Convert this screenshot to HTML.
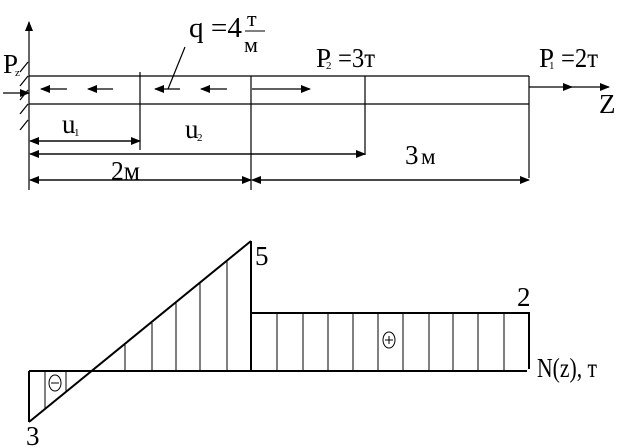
<!DOCTYPE html>
<html><head><meta charset="utf-8"><style>
html,body{margin:0;padding:0;background:#fff;}
svg{display:block;}
text{font-family:"Liberation Serif","DejaVu Serif",serif;fill:#000;}
</style></head><body>
<svg width="640" height="448" viewBox="0 0 640 448" xmlns="http://www.w3.org/2000/svg">
<defs>
<marker id="a" markerWidth="10" markerHeight="8" refX="9" refY="4" orient="auto" markerUnits="userSpaceOnUse"><path d="M0,0 L10,4 L0,8 z" fill="#000"/></marker>
</defs>
<g stroke="#000" stroke-width="1.2" fill="none">
<line x1="29" y1="190" x2="29" y2="22" marker-end="url(#a)"/>
<line x1="20" y1="72" x2="28" y2="62"/>
<line x1="20" y1="86" x2="28" y2="76"/>
<line x1="20" y1="100" x2="28" y2="90"/>
<line x1="20" y1="114" x2="28" y2="104"/>
<line x1="20" y1="130" x2="28" y2="120"/>
<line x1="3" y1="93" x2="29" y2="93" marker-end="url(#a)"/>
<line x1="29" y1="76" x2="529" y2="76"/>
<line x1="29" y1="104" x2="529" y2="104"/>
<line x1="140" y1="72" x2="140" y2="150"/>
<line x1="251" y1="76" x2="251" y2="190"/>
<line x1="365" y1="76" x2="365" y2="155"/>
<line x1="529" y1="76" x2="529" y2="178"/>
<line x1="67" y1="89" x2="41" y2="89" marker-end="url(#a)"/>
<line x1="113" y1="89" x2="88" y2="89" marker-end="url(#a)"/>
<line x1="180" y1="89" x2="155" y2="89" marker-end="url(#a)"/>
<line x1="227" y1="89" x2="201" y2="89" marker-end="url(#a)"/>
<line x1="252" y1="89" x2="310" y2="89" marker-end="url(#a)"/>
<line x1="168" y1="89" x2="185" y2="47"/>
<line x1="529" y1="87" x2="572" y2="87" marker-end="url(#a)"/>
<line x1="570" y1="87" x2="609" y2="87" marker-end="url(#a)"/>
<line x1="31" y1="141" x2="140" y2="141" marker-end="url(#a)"/>
<line x1="138" y1="141" x2="30" y2="141" marker-end="url(#a)"/>
<line x1="364" y1="154" x2="30" y2="154" marker-end="url(#a)"/>
<line x1="31" y1="154" x2="365" y2="154" marker-end="url(#a)"/>
<line x1="250" y1="180" x2="30" y2="180" marker-end="url(#a)"/>
<line x1="31" y1="180" x2="251" y2="180" marker-end="url(#a)"/>
<line x1="528" y1="180" x2="252" y2="180" marker-end="url(#a)"/>
<line x1="253" y1="180" x2="529" y2="180" marker-end="url(#a)"/>
</g>
<g stroke="#000" fill="none">
<g stroke-width="1">
<line x1="45" y1="371" x2="45" y2="409"/>
<line x1="66" y1="371" x2="66" y2="392"/>
<line x1="125" y1="371" x2="125" y2="345"/>
<line x1="152" y1="371" x2="152" y2="323"/>
<line x1="176" y1="371" x2="176" y2="303"/>
<line x1="200" y1="371" x2="200" y2="283"/>
<line x1="227" y1="371" x2="227" y2="261"/>
<line x1="277" y1="313" x2="277" y2="371"/>
<line x1="303" y1="313" x2="303" y2="371"/>
<line x1="328" y1="313" x2="328" y2="371"/>
<line x1="353" y1="313" x2="353" y2="371"/>
<line x1="378" y1="313" x2="378" y2="371"/>
<line x1="403" y1="313" x2="403" y2="371"/>
<line x1="429" y1="313" x2="429" y2="371"/>
<line x1="453" y1="313" x2="453" y2="371"/>
<line x1="478" y1="313" x2="478" y2="371"/>
<line x1="504" y1="313" x2="504" y2="371"/>
</g>
<g stroke-width="2">
<line x1="29" y1="371" x2="527" y2="371"/>
<line x1="29" y1="371" x2="29" y2="422"/>
<line x1="29" y1="422" x2="251" y2="241"/>
<line x1="251" y1="241" x2="251" y2="371"/>
<line x1="251" y1="313" x2="529" y2="313"/>
<line x1="529" y1="312" x2="529" y2="369"/>
</g>
<ellipse cx="55" cy="383" rx="6" ry="8" stroke-width="1"/>
<line x1="51" y1="383" x2="59" y2="383" stroke-width="1"/>
<ellipse cx="389" cy="340" rx="6" ry="8" stroke-width="1"/>
<line x1="385" y1="340" x2="393" y2="340" stroke-width="1"/>
<line x1="389" y1="336" x2="389" y2="344" stroke-width="1"/>
</g>
<text x="3" y="73" font-size="27">P</text><text x="15" y="76" font-size="11">z</text>
<text x="189" y="37" font-size="28" textLength="53" lengthAdjust="spacingAndGlyphs">q =4</text>
<text x="247" y="26" font-size="22">т</text>
<line x1="245" y1="31" x2="265" y2="31" stroke="#000" stroke-width="1"/>
<text x="244" y="52" font-size="22">м</text>
<text x="316" y="67" font-size="27">P</text><text x="326" y="69" font-size="11">2</text>
<text x="338" y="67" font-size="27" textLength="37" lengthAdjust="spacingAndGlyphs">=3т</text>
<text x="539" y="67" font-size="27">P</text><text x="549" y="69" font-size="11">1</text>
<text x="561" y="67" font-size="27" textLength="37" lengthAdjust="spacingAndGlyphs">=2т</text>
<text x="599" y="113" font-size="27">Z</text>
<text x="62" y="133" font-size="27">u</text><text x="74" y="136" font-size="11">1</text>
<text x="185" y="138" font-size="27">u</text><text x="197" y="141" font-size="11">2</text>
<text x="111" y="180" font-size="27" textLength="29" lengthAdjust="spacingAndGlyphs">2м</text>
<text x="405" y="164" font-size="27">3</text><text x="421" y="164" font-size="23">м</text>
<text x="255" y="265" font-size="27">5</text>
<text x="517" y="306" font-size="27">2</text>
<text x="26" y="445" font-size="27">3</text>
<text x="537" y="377" font-size="27" textLength="60" lengthAdjust="spacingAndGlyphs">N(z), т</text>
</svg>
</body></html>
